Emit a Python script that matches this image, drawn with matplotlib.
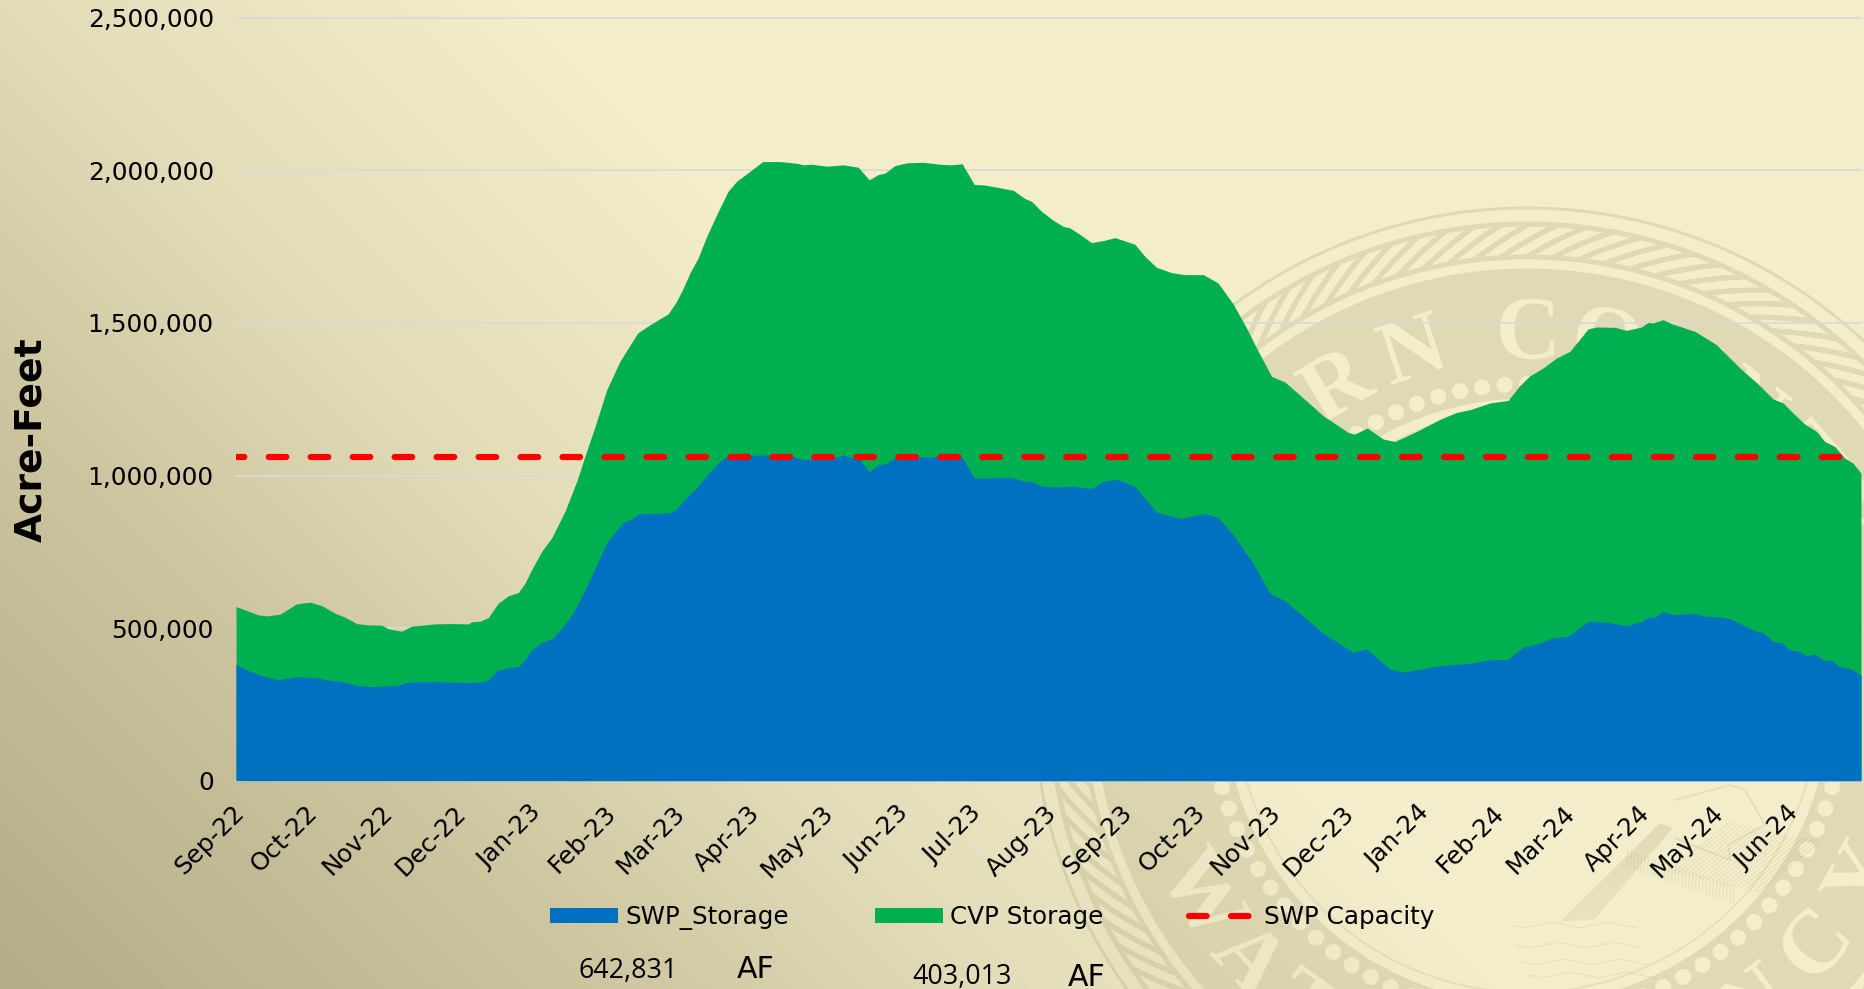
import numpy as np
import pandas as pd
import matplotlib
matplotlib.use("Agg")
import matplotlib.pyplot as plt
from matplotlib.font_manager import FontProperties
from matplotlib.lines import Line2D
from matplotlib.patches import Patch, PathPatch
from matplotlib.textpath import TextPath
from matplotlib.ticker import FuncFormatter
from matplotlib.transforms import Affine2D, ScaledTranslation

# ---------- data (days since 1 Sep 2022, acre-feet) ----------
START = "2022-09-01"
END_DAY = 668

total_days = [0, 9.2, 12.6, 18.1, 24.9, 30.4, 35.2, 40.7, 44.8, 49.6, 54.4, 59.9, 62.6, 68.1, 72.2, 81.8, 87.3,
              95.5, 96.9, 100.3, 103.7, 107.8, 111.9, 116, 118.8, 121.5, 125.6, 129.7, 135.2, 140.3, 143.4, 147.6,
              152.4, 157.8, 165.1, 170.2, 177.7, 181.1, 183.9, 186.6, 190, 193.5, 197.6, 202.3, 205.8, 211.3, 216.5,
              223.6, 230.4, 233.2, 236.6, 242.8, 249.6, 255.8, 260.3, 264, 266.7, 270.9, 275.7, 282.5, 289.4,
              293.5, 298.5, 303.5, 307.2, 312, 319.5, 324.3, 327, 331.1, 335.9, 340, 342.8, 347.6, 351.7, 356.5,
              361.3, 369.5, 373.6, 378.4, 384.6, 390, 397.6, 403.7, 409.9, 415.4, 419.5, 425.7, 431.2, 438.7,
              446.9, 457.2, 459.9, 465, 471.6, 476.4, 485.3, 494.9, 501.7, 507.2, 515.4, 522.9, 527.7, 531.9,
              537.3, 542.8, 548.3, 555.8, 559.3, 566.8, 571.6, 577.8, 580.5, 582.5, 586.6, 590.1, 599.7, 608.6,
              618.2, 625.7, 631.9, 636, 640.8, 644.9, 649.7, 653.1, 657.2, 661.3, 664.7, 668]
total_storage = [570600, 543300, 540000, 545600, 579400, 585000, 573900, 548900, 535800, 514800, 510500, 509600,
                 497400, 489900, 506300, 513800, 514800, 513800, 520400, 522700, 534500, 581700, 605600, 616500,
                 647300, 690900, 750900, 794800, 882100, 986000, 1062400, 1160700, 1281100, 1373900, 1467000,
                 1494000, 1530000, 1570700, 1614500, 1663800, 1713000, 1783800, 1854900, 1931400,
                 1964100, 1996900, 2028700, 2028700, 2023100, 2017900, 2019900, 2013300, 2017900, 2010000, 1968700,
                 1986100, 1990400, 2015600, 2024400, 2026400, 2019900, 2017900, 2021200, 1953300, 1952300, 1945800,
                 1934600, 1907400, 1898500, 1865800, 1836300, 1816500, 1811300, 1786000, 1763100, 1769700, 1779500,
                 1757500, 1718200, 1682100, 1664700, 1658200, 1658200, 1631000, 1562100, 1483400, 1417800, 1324700,
                 1306400, 1253900, 1195900, 1141100, 1135800, 1155500, 1119500, 1111600, 1144400, 1184000, 1206700,
                 1215500, 1237500, 1246000, 1294200, 1327000, 1352300, 1385000, 1406700, 1480100, 1486700, 1485400,
                 1475600, 1486700, 1501800, 1499800, 1510600, 1497500, 1472300, 1428600, 1352300, 1299800, 1250600,
                 1237500, 1199100, 1168600, 1144400, 1111600, 1095200, 1057100, 1040700, 1008000]

swp_days = [0, 5.1, 10.6, 16.7, 18.8, 24.9, 32.5, 37.9, 44.8, 49.6, 55.8, 66.7, 70.8, 76.3, 90, 98.2, 103.4, 107.1,
            111.9, 116, 118.8, 121.5, 125.6, 130.4, 136.6, 139.3, 144.8, 152.3, 159.2, 162.6, 165.6, 172.2, 178.4,
            181.1, 184.5, 189.3, 194.8, 198.9, 202.3, 219.5, 227.7, 232.5, 235.9, 245.5, 249.6, 253.7, 256.5, 260.3,
            264, 266.7, 271.5, 281.1, 289.4, 298.3, 303.5, 309.9, 312, 319.5, 323.6, 327, 331.1, 337.3, 344.1, 351.7,
            356.5, 362, 369.5, 378.4, 388, 398.3, 403.7, 409.9, 418.1, 425, 431.2, 446.9, 459.2, 464.7, 474.3, 479.6,
            486.6, 494.9, 507.2, 515.4, 522.9, 529.1, 536, 540.1, 547.6, 555.8, 563.4, 571.6, 577.8, 580.5, 583.2,
            586.6, 590.8, 599.7, 603.8, 608.6, 614, 625, 627.7, 631.9, 635.3, 638.7, 642.1, 645.6, 649, 652.4, 655.8,
            659.3, 663.4, 668]
swp_storage = [381700, 360700, 344300, 331200, 332500, 341000, 337700, 330200, 322700, 311500, 308200, 312800, 322700,
               324600, 322700, 321300, 327900, 359700, 370500, 373800, 395800, 428600, 452500, 466900, 526900, 559700,
               647300, 778400, 847300, 857100, 874500, 875500, 877800, 889900, 922700, 958800, 1013200, 1046000,
               1066000, 1067000, 1065700, 1052600, 1053900, 1057100, 1067000, 1057100, 1051600, 1013200, 1035200,
               1038500, 1060400, 1060400, 1061400, 1062400, 991600, 991600, 993500, 993500, 981700, 980400, 965300,
               962000, 965300, 957500, 980400, 988300, 964000, 880100, 859100, 875500, 862400, 805600, 712900, 614500,
               589200, 483300, 421000, 431800, 366300, 356000, 365000, 377100, 384900, 395800, 398100, 437400, 450500,
               465600, 473500, 521400, 519400, 508200, 521400, 535800, 535800, 554200, 544300, 547600, 539100, 537800,
               531200, 488600, 486600, 455800, 452500, 428600, 425300, 409900, 415400, 395800, 393500, 373800, 367200,
               346600]

capacity_days = [0, 668]
swp_capacity = [1062000, 1062000]

y_ticks = [0, 500000, 1000000, 1500000, 2000000, 2500000]
series_names = ["SWP_Storage", "CVP Storage", "SWP Capacity"]
swp_current = "642,831"
cvp_current = "403,013"
unit_label = "AF"

# ---------- page background: diagonal gradient plus seal watermark ----------
W, H, DPI = 1864, 989, 100
fig = plt.figure(figsize=(W / DPI, H / DPI), dpi=DPI)


def gradient(x, y):
    s = x + (H - y)
    stops = [0, 620, 1000, 1500]
    return np.stack([np.interp(s, stops, [178, 205, 226, 243]),
                     np.interp(s, stops, [172, 198, 220, 237]),
                     np.interp(s, stops, [136, 160, 185, 203])], axis=-1)


X, Y = np.meshgrid(np.arange(W) + .5, np.arange(H) + .5)
bg = gradient(X, Y)
CX, CY = 1527.0, 701.0
dx, dy = X - CX, Y - CY
r = np.hypot(dx, dy)
th = np.arctan2(dx, -dy)


def band(rv, lo, hi):
    return np.clip(rv - lo, 0, 1) * np.clip(hi - rv, 0, 1)


mask = band(r, 491, 495) + band(r, 441, 480) + band(r, 302, 433) + 0.7 * band(r, 290, 293)
# rope strands
u = (th * 460 - 1.73 * (r - 460)) % 27.0
strand = np.clip(8.5 - np.abs(u - 13.5), 0, 1) * band(r, 446, 475)
# dots
du = (th * 317 + 11.25) % 22.5 - 11.25
dots = np.clip(8.5 - np.hypot(du, r - 317), 0, 1)
mask = np.clip(mask - strand - dots, 0, 1)
tint = np.array([137, 127, 80.0])
bg = bg * (1 - .18 * mask[..., None]) + tint * .18 * mask[..., None]

axbg = fig.add_axes([0, 0, 1, 1], zorder=0)
axbg.imshow(bg.astype(np.uint8), extent=(0, W, H, 0), aspect="auto", interpolation="nearest")
axbg.set_xlim(0, W)
axbg.set_ylim(H, 0)
axbg.axis("off")

seal_font = FontProperties(family="Liberation Serif", weight="bold")


def seal_letter(ch, px, py, deg):
    tp = TextPath((0, 0), ch, size=90, prop=seal_font)
    bb = tp.get_extents()
    tr = (Affine2D().translate(-(bb.x0 + bb.x1) / 2, -(bb.y0 + bb.y1) / 2).scale(1, -1)
          .rotate_deg(deg).translate(px, py))
    col = gradient(np.array(px), np.array(py)) / 255
    axbg.add_patch(PathPatch(tp, transform=tr + axbg.transData, facecolor=col, edgecolor="none"))


for ch, deg in [("K", -57), ("E", -44), ("R", -31), ("N", -18), ("C", 0), ("O", 12.5), ("U", 25), ("N", 37),
                ("T", 49), ("Y", 60)]:
    a = np.radians(deg)
    seal_letter(ch, CX + 372 * np.sin(a), CY - 372 * np.cos(a), deg)
for ch, deg in [("W", -59), ("A", -47), ("T", -36), ("E", -25), ("R", -14), ("A", 3), ("G", 14), ("E", 25),
                ("N", 37), ("C", 49.5), ("Y", 62)]:
    a = np.radians(deg)
    seal_letter(ch, CX + 375 * np.sin(a), CY + 375 * np.cos(a), -deg)

# faint engraved scene inside the seal (dam, spillway, water)
etch = dict(color=tint / 255, alpha=.13, lw=.8, solid_capstyle="round")
for k in np.linspace(0, 1, 9):
    axbg.plot([1563 + 30 * k, 1660 + 12 * k], [921 - 2 * k, 824 + 4 * k], **{**etch, "lw": 1.3, "alpha": .14})
for k in np.linspace(0, 1, 32):
    xb, yb = 1627 + 106 * k, 867 + 36 * k
    axbg.plot([xb, xb + 1], [yb, yb - 17], **etch)
for k in np.linspace(0, 1, 22):
    xb, yb = 1668 + 90 * k, 872 + 20 * k
    axbg.plot([xb, xb + 62], [yb, yb - 50], **etch)
axbg.plot([1675, 1730, 1745, 1765, 1750, 1728, 1730, 1675], [800, 785, 790, 825, 833, 845, 860, 838],
          **{**etch, "lw": 1.4})
wave_x = np.arange(1510, 1650, 14.0)
for k, y0 in enumerate([925, 945, 962, 975]):
    axbg.plot(wave_x + 6 * k, y0 + 3 * np.array([0, 1, 0, -1, 0, 1, 0, -1, 0, 1]), **etch)

# ---------- chart ----------
L, R_, T, B = 236.0, 1861.0, 17.7, 780.7
ax = fig.add_axes([L / W, 1 - B / H, (R_ - L) / W, (B - T) / H], zorder=2)
ax.patch.set_alpha(0)


def to_dates(days):
    return pd.Timestamp(START) + pd.to_timedelta(np.asarray(days, float), unit="D")


ax.fill_between(to_dates(total_days), 0, total_storage, color="#00B050", lw=0, zorder=2)
ax.fill_between(to_dates(swp_days), 0, swp_storage, color="#0070C0", lw=0, zorder=3)
LW = 6.2 * 72 / DPI
ax.plot(to_dates(capacity_days), swp_capacity, color="#FF0000", lw=LW, zorder=4,
        linestyle=(1.5, (2.85, 3.92)), dash_capstyle="round")

ax.set_xlim(to_dates([0])[0], to_dates([END_DAY])[0])
ax.set_ylim(0, 2500000)
ax.set_yticks(y_ticks)
ax.yaxis.set_major_formatter(FuncFormatter(lambda v, _: f"{int(v):,}"))
months = pd.date_range(START, "2024-06-01", freq="MS")
ax.set_xticks(months)
ax.set_xticklabels([m.strftime("%b-%y") for m in months], rotation=45, ha="right", va="top",
                   rotation_mode="anchor", fontsize=17.8)
ax.tick_params(axis="x", length=0, pad=14.5, colors="black")
ax.tick_params(axis="y", length=0, pad=16, labelsize=17.9, colors="black")
shift = ScaledTranslation(-4 / DPI, 0, fig.dpi_scale_trans)
for lab in ax.get_xticklabels():
    lab.set_transform(lab.get_transform() + shift)
ax.grid(axis="y", color="#D9D9D9", lw=1.2, zorder=1)
ax.set_axisbelow(True)
for g in ax.get_ygridlines():
    g.set_clip_on(False)
for name in ("top", "right", "left"):
    ax.spines[name].set_visible(False)
ax.spines["bottom"].set_color("#D0D0D0")
ax.spines["bottom"].set_linewidth(1.2)

fig.text(31.5 / W, 1 - 440 / H, "Acre-Feet", rotation=90, fontsize=27.1, fontweight="bold", ha="center", va="center",
         color="black", zorder=5)

handles = [Patch(facecolor="#0070C0", edgecolor="none"), Patch(facecolor="#00B050", edgecolor="none"),
           Line2D([], [], color="#FF0000", lw=LW, linestyle=(0, (2.85, 3.92)), dash_capstyle="round")]
fig.legend(handles, series_names, ncol=3, frameon=False, fontsize=17.7, handlelength=2.77, handleheight=0.56,
           handletextpad=0.28, columnspacing=3.5, labelcolor="black", borderpad=0, borderaxespad=0,
           loc="center left", bbox_to_anchor=(550 / W, 1 - 917.5 / H))

for txt, xc, yc in [(swp_current, 628, 971), (cvp_current, 962, 977)]:
    fig.text(xc / W, 1 - yc / H, txt, fontsize=19.4, family="Open Sans", ha="center", va="center", color="black", zorder=5)
for xc, yc in [(756, 970), (1087, 977)]:
    fig.text(xc / W, 1 - yc / H, unit_label, fontsize=21.6, ha="center", va="center", color="black", zorder=5)

fig.savefig("out.png", dpi=DPI)
